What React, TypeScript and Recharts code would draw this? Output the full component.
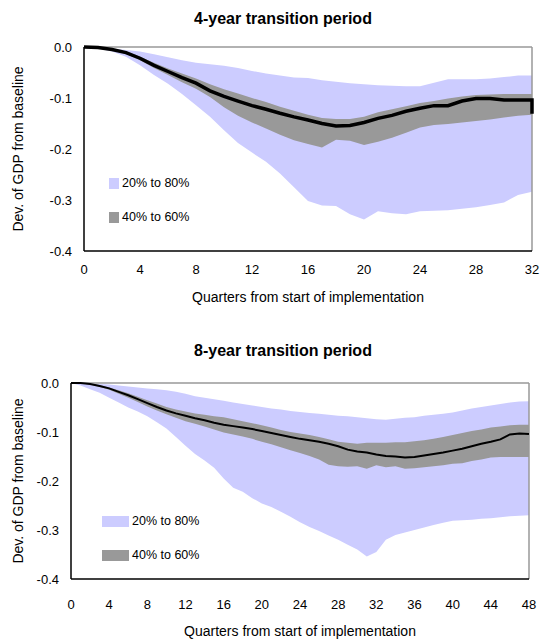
import * as React from "react"
import {
  ComposedChart,
  Area,
  Line,
  XAxis,
  YAxis,
  ReferenceLine,
  Legend,
} from "recharts"

const FONT = '"Liberation Sans Narrow", "Arial Narrow", "Liberation Sans", Arial, sans-serif'
const LILAC = "#CCCCFF"
const GREY = "#999999"

// 4-year transition, quarters 0..32 (last quarter repeated for the closing drop)
const q4 = [0, 1, 2, 3, 4, 5, 6, 7, 8, 9, 10, 11, 12, 13, 14, 15, 16, 17, 18, 19, 20, 21, 22, 23, 24, 25, 26, 27, 28, 29, 30, 31, 32, 32]
const median4 = [0, -0.001, -0.005, -0.011, -0.022, -0.036, -0.048, -0.06, -0.071, -0.086, -0.097, -0.106, -0.115, -0.122, -0.13, -0.137, -0.143, -0.15, -0.155, -0.154, -0.148, -0.14, -0.134, -0.126, -0.12, -0.115, -0.115, -0.106, -0.101, -0.101, -0.104, -0.104, -0.104, -0.131]
const p80_4 = [0, -0.001, -0.003, -0.006, -0.009, -0.014, -0.02, -0.026, -0.031, -0.034, -0.037, -0.041, -0.047, -0.052, -0.056, -0.06, -0.061, -0.065, -0.068, -0.071, -0.073, -0.075, -0.076, -0.077, -0.077, -0.07, -0.063, -0.063, -0.063, -0.062, -0.059, -0.056, -0.056, -0.056]
const p20_4 = [0, -0.003, -0.009, -0.019, -0.036, -0.055, -0.072, -0.092, -0.114, -0.137, -0.163, -0.188, -0.207, -0.225, -0.248, -0.275, -0.302, -0.311, -0.312, -0.328, -0.338, -0.322, -0.326, -0.328, -0.322, -0.321, -0.32, -0.317, -0.314, -0.31, -0.305, -0.29, -0.284, -0.284]
const p60_4 = [0, -0.001, -0.004, -0.009, -0.019, -0.031, -0.042, -0.052, -0.062, -0.073, -0.083, -0.091, -0.1, -0.108, -0.117, -0.125, -0.133, -0.139, -0.141, -0.141, -0.137, -0.128, -0.122, -0.116, -0.11, -0.106, -0.101, -0.097, -0.094, -0.093, -0.092, -0.092, -0.092, -0.092]
const p40_4 = [0, -0.002, -0.006, -0.013, -0.026, -0.041, -0.055, -0.069, -0.082, -0.098, -0.118, -0.135, -0.148, -0.16, -0.172, -0.183, -0.19, -0.197, -0.182, -0.184, -0.192, -0.186, -0.178, -0.168, -0.158, -0.153, -0.151, -0.148, -0.145, -0.142, -0.138, -0.135, -0.133, -0.133]

// 8-year transition, quarters 0..48
const q8 = [0, 1, 2, 3, 4, 5, 6, 7, 8, 9, 10, 11, 12, 13, 14, 15, 16, 17, 18, 19, 20, 21, 22, 23, 24, 25, 26, 27, 28, 29, 30, 31, 32, 33, 34, 35, 36, 37, 38, 39, 40, 41, 42, 43, 44, 45, 46, 47, 48]
const median8 = [0, 0, -0.002, -0.006, -0.011, -0.018, -0.025, -0.033, -0.041, -0.049, -0.056, -0.062, -0.067, -0.072, -0.076, -0.081, -0.085, -0.088, -0.091, -0.094, -0.098, -0.102, -0.106, -0.11, -0.114, -0.117, -0.12, -0.124, -0.129, -0.136, -0.14, -0.142, -0.146, -0.149, -0.15, -0.152, -0.151, -0.148, -0.145, -0.142, -0.138, -0.134, -0.129, -0.124, -0.12, -0.115, -0.105, -0.103, -0.104]
const p80_8 = [0, 0, -0.001, -0.002, -0.003, -0.005, -0.007, -0.009, -0.011, -0.013, -0.015, -0.018, -0.022, -0.027, -0.03, -0.033, -0.036, -0.04, -0.043, -0.046, -0.049, -0.052, -0.054, -0.057, -0.059, -0.061, -0.063, -0.065, -0.067, -0.068, -0.07, -0.072, -0.074, -0.075, -0.073, -0.071, -0.07, -0.067, -0.065, -0.063, -0.06, -0.056, -0.052, -0.049, -0.046, -0.043, -0.04, -0.038, -0.037]
const p20_8 = [0, -0.005, -0.013, -0.02, -0.03, -0.04, -0.05, -0.058, -0.068, -0.08, -0.093, -0.11, -0.128, -0.145, -0.158, -0.173, -0.195, -0.214, -0.222, -0.235, -0.246, -0.253, -0.263, -0.273, -0.284, -0.294, -0.302, -0.311, -0.32, -0.33, -0.34, -0.354, -0.345, -0.32, -0.31, -0.305, -0.3, -0.295, -0.29, -0.285, -0.281, -0.28, -0.279, -0.277, -0.276, -0.274, -0.272, -0.271, -0.27]
const p60_8 = [0, 0, -0.001, -0.004, -0.009, -0.015, -0.021, -0.028, -0.035, -0.042, -0.049, -0.054, -0.058, -0.062, -0.065, -0.068, -0.07, -0.074, -0.078, -0.082, -0.086, -0.091, -0.096, -0.1, -0.103, -0.106, -0.11, -0.115, -0.12, -0.122, -0.124, -0.122, -0.122, -0.122, -0.121, -0.121, -0.119, -0.117, -0.114, -0.11, -0.106, -0.102, -0.098, -0.095, -0.091, -0.089, -0.086, -0.085, -0.085]
const p40_8 = [0, -0.001, -0.003, -0.008, -0.014, -0.022, -0.03, -0.039, -0.048, -0.056, -0.064, -0.071, -0.078, -0.083, -0.089, -0.095, -0.101, -0.105, -0.109, -0.114, -0.12, -0.125, -0.131, -0.137, -0.143, -0.149, -0.156, -0.167, -0.17, -0.171, -0.17, -0.175, -0.168, -0.172, -0.17, -0.175, -0.174, -0.172, -0.17, -0.168, -0.165, -0.164, -0.159, -0.156, -0.152, -0.151, -0.151, -0.151, -0.151]

const yTicks = [0, -0.1, -0.2, -0.3, -0.4]
const xTicks4 = [0, 4, 8, 12, 16, 20, 24, 28, 32]
const xTicks8 = [0, 4, 8, 12, 16, 20, 24, 28, 32, 36, 40, 44, 48]
const legendItems = [
  { label: "20% to 80%", color: LILAC },
  { label: "40% to 60%", color: GREY },
]

function buildRows(q: number[], med: number[], p20: number[], p40: number[], p60: number[], p80: number[]) {
  return q.map((quarter, i) => ({
    quarter,
    median: med[i],
    outer: [p20[i], p80[i]],
    inner: [p40[i], p60[i]],
  }))
}

const data4 = buildRows(q4, median4, p20_4, p40_4, p60_4, p80_4)
const data8 = buildRows(q8, median8, p20_8, p40_8, p60_8, p80_8)

interface PanelProps {
  title: string
  data: Array<{ quarter: number; median: number; outer: number[]; inner: number[] }>
  xMax: number
  xTicks: number[]
  top: number
  height: number
  margin: { top: number; right: number; left: number; bottom: number }
  yWidth: number
  yLabelOffset: number
  xTickMargin: number
  xAxisHeight: number
  lineWidth: number
  legendLeft: number
  legendTop: number
  swatchWidth: number
  titleTop: number
}

function Panel(p: PanelProps) {
  const renderLegend = () => (
    <div style={{ fontFamily: FONT, fontSize: 12.5, color: "#000" }}>
      {legendItems.map((item) => (
        <div key={item.label} style={{ display: "flex", alignItems: "center", height: 34 }}>
          <span style={{ display: "inline-block", width: p.swatchWidth, height: 11, background: item.color, marginRight: 3 }} />
          <span>{item.label}</span>
        </div>
      ))}
    </div>
  )

  return (
    <div style={{ position: "absolute", left: 0, top: p.top, width: 541, height: p.height }}>
      <div
        style={{
          position: "absolute",
          top: p.titleTop,
          left: 0,
          width: 566,
          textAlign: "center",
          fontFamily: FONT,
          fontWeight: "bold",
          fontSize: 16,
        }}
      >
        {p.title}
      </div>
      <ComposedChart width={541} height={p.height} data={p.data} margin={p.margin}>
        <XAxis
          dataKey="quarter"
          type="number"
          domain={[0, p.xMax]}
          ticks={p.xTicks}
          interval={0}
          tickLine={false}
          tickMargin={p.xTickMargin}
          axisLine={{ stroke: "#000", strokeWidth: 1.5 }}
          height={p.xAxisHeight}
          tick={{ fill: "#000", fontSize: 13, fontFamily: FONT }}
          label={{
            value: "Quarters from start of implementation",
            position: "insideBottom",
            offset: 0,
            style: { fill: "#000", fontSize: 14, fontFamily: FONT },
          }}
        />
        <YAxis
          type="number"
          domain={[-0.4, 0]}
          ticks={yTicks}
          interval={0}
          width={p.yWidth}
          tickLine={false}
          tickMargin={6}
          axisLine={{ stroke: "#000", strokeWidth: 1.5 }}
          tick={{ fill: "#000", fontSize: 13, fontFamily: FONT }}
          tickFormatter={(v: number) => v.toFixed(1)}
          label={{
            value: "Dev. of GDP from baseline",
            angle: -90,
            position: "insideLeft",
            offset: p.yLabelOffset,
            style: { fill: "#000", fontSize: 14, fontFamily: FONT, textAnchor: "middle" },
          }}
        />
        <Area
          dataKey="outer"
          type="linear"
          stroke="none"
          fill={LILAC}
          fillOpacity={1}
          isAnimationActive={false}
        />
        <Area
          dataKey="inner"
          type="linear"
          stroke="none"
          fill={GREY}
          fillOpacity={1}
          isAnimationActive={false}
        />
        <ReferenceLine y={0} stroke="#999" strokeWidth={1.5} />
        <ReferenceLine x={p.xMax} stroke="#999" strokeWidth={1.5} />
        <Line
          dataKey="median"
          type="linear"
          stroke="#000"
          strokeWidth={p.lineWidth}
          dot={false}
          isAnimationActive={false}
        />
        <Legend
          layout="vertical"
          align="center"
          verticalAlign="middle"
          content={renderLegend}
          wrapperStyle={{ left: p.legendLeft, top: p.legendTop, width: 150 }}
        />
      </ComposedChart>
    </div>
  )
}

export default function App() {
  return (
    <div style={{ position: "absolute", left: 0, top: 0, width: 541, height: 639, background: "#fff" }}>
      <Panel
        title="4-year transition period"
        data={data4}
        xMax={32}
        xTicks={xTicks4}
        top={0}
        height={320}
        margin={{ top: 47, right: 9, left: 24, bottom: 18 }}
        yWidth={60}
        yLabelOffset={-6}
        xTickMargin={8}
        xAxisHeight={51}
        lineWidth={3.5}
        legendLeft={109}
        legendTop={166}
        swatchWidth={10}
        titleTop={10}
      />
      <Panel
        title="8-year transition period"
        data={data8}
        xMax={48}
        xTicks={xTicks8}
        top={330}
        height={309}
        margin={{ top: 53, right: 12, left: 21, bottom: 3 }}
        yWidth={50}
        yLabelOffset={-3}
        xTickMargin={15}
        xAxisHeight={57}
        lineWidth={2}
        legendLeft={102}
        legendTop={174}
        swatchWidth={27}
        titleTop={12}
      />
    </div>
  )
}
